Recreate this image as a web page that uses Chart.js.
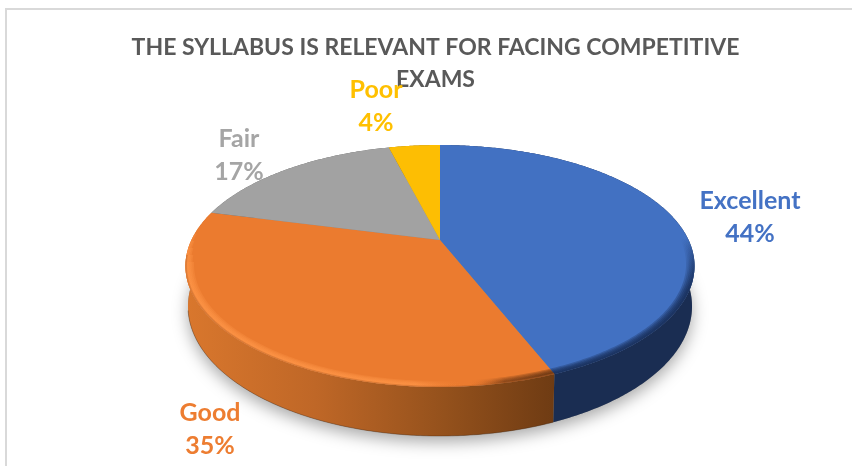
<!DOCTYPE html>
<html>
<head>
<meta charset="utf-8">
<style>html,body{margin:0;padding:0;background:#fff}#wrap{width:852px;height:466px;position:relative}</style>
<script src="https://cdn.jsdelivr.net/npm/chart.js@4"></script>
</head>
<body>
<div id="wrap"><canvas id="c" width="852" height="466"></canvas></div>
<script>
const titleLines = ['THE SYLLABUS IS RELEVANT FOR FACING COMPETITIVE', 'EXAMS'];
const categories = ['Excellent', 'Good', 'Fair', 'Poor'];
const percents = [44, 35, 17, 4];
const sliceColors = ['#4271C2', '#EB7B2F', '#A2A2A2', '#FDBE03'];
const labelColors = ['#4472C4', '#ED7D31', '#A5A5A5', '#FFC000'];

// Perspective view of the pie disc (drawing style, not data)
const view = {cx: 440, cy: 240, R: 248.6, Q: 115.4, p: 0.2148, D: 38.5, shrink: 0.99};
const labelCentres = [[750, 201], [210, 413], [239, 139], [376, 90]];
const labelGap = 32.5;

function project(theta, rho, level) {
  const u = rho * Math.sin(theta), v = -rho * Math.cos(theta), w = 1 - view.p * v;
  const k = level ? view.shrink : 1;
  return [view.cx + view.R * u / w * k, view.cy + view.Q * v / w + (level ? view.D / w : 0)];
}
function arcPts(a0, a1, rho, level) {
  const n = Math.max(2, Math.ceil(Math.abs(a1 - a0) / 0.01)), pts = [];
  for (let i = 0; i <= n; i++) pts.push(project(a0 + (a1 - a0) * i / n, rho, level));
  return pts;
}
function trace(ctx, pts, move) {
  pts.forEach((q, i) => (i === 0 && move) ? ctx.moveTo(q[0], q[1]) : ctx.lineTo(q[0], q[1]));
}
function band(ctx, a0, a1, r0, r1) {
  ctx.beginPath();
  trace(ctx, arcPts(a0, a1, r0, 0), true);
  trace(ctx, arcPts(a1, a0, r1, 0), false);
  ctx.closePath();
}

const pie3d = {
  id: 'pie3d',
  beforeDraw(chart) {
    const ctx = chart.ctx;
    ctx.save();
    ctx.fillStyle = '#fff';
    ctx.fillRect(0, 0, 852, 466);
    ctx.strokeStyle = '#d9d9d9';
    ctx.lineWidth = 2;
    ctx.beginPath();
    ctx.moveTo(6, 466); ctx.lineTo(6, 9); ctx.lineTo(852, 9);
    ctx.stroke();
    ctx.restore();
  },
  beforeDatasetsDraw(chart) {
    const ctx = chart.ctx, arcs = chart.getDatasetMeta(0).data;
    const th = a => a + Math.PI / 2;
    ctx.save();

    // soft ground shadow
    ctx.save();
    ctx.shadowColor = 'rgba(0,0,0,0.34)';
    ctx.shadowBlur = 16;
    ctx.shadowOffsetY = 6;
    ctx.fillStyle = '#888';
    ctx.beginPath();
    trace(ctx, arcPts(0, Math.PI * 2, 1, 1), true);
    ctx.closePath();
    ctx.fill();
    ctx.restore();

    // side wall of each slice
    const orangeSide = ctx.createLinearGradient(186, 0, 556, 0);
    orangeSide.addColorStop(0, '#D9772D');
    orangeSide.addColorStop(0.35, '#BF6727');
    orangeSide.addColorStop(0.7, '#94511C');
    orangeSide.addColorStop(1, '#6E3B13');
    const sides = ['#1A2D52', orangeSide, '#5f5f5f', '#96700a'];
    arcs.forEach((arc, i) => {
      const a0 = th(arc.startAngle), a1 = th(arc.endAngle);
      ctx.beginPath();
      trace(ctx, arcPts(a0, a1, 1, 0), true);
      trace(ctx, arcPts(a1, a0, 1, 1), false);
      ctx.closePath();
      ctx.fillStyle = sides[i];
      ctx.fill();
    });
    // dark foot line of the orange wall
    ctx.strokeStyle = 'rgba(70,35,10,0.35)';
    ctx.lineWidth = 1;
    ctx.beginPath();
    trace(ctx, arcPts(th(arcs[1].startAngle), th(arcs[1].endAngle) - 0.5, 1, 1), true);
    ctx.stroke();

    // top faces
    arcs.forEach((arc, i) => {
      const a0 = th(arc.startAngle), a1 = th(arc.endAngle);
      ctx.beginPath();
      ctx.moveTo(view.cx, view.cy);
      trace(ctx, arcPts(a0, a1, 1, 0), false);
      ctx.closePath();
      ctx.fillStyle = sliceColors[i];
      ctx.fill();
    });

    // bevel of the rim: soft layered bands that taper towards the back
    const blueRim = ctx.createLinearGradient(0, 238, 0, 290);
    blueRim.addColorStop(0, 'rgba(20,40,80,0)');
    blueRim.addColorStop(1, 'rgba(20,40,80,0.3)');
    const orangeRim = ctx.createLinearGradient(186, 0, 556, 0);
    orangeRim.addColorStop(0, 'rgba(255,150,72,0.3)');
    orangeRim.addColorStop(0.62, 'rgba(255,150,72,0.3)');
    orangeRim.addColorStop(0.76, 'rgba(235,123,47,0)');
    orangeRim.addColorStop(0.86, 'rgba(90,45,15,0.2)');
    orangeRim.addColorStop(1, 'rgba(90,45,15,0.34)');

    [[0, blueRim], [1, orangeRim]].forEach(([i, style]) => {
      const a0 = th(arcs[i].startAngle), a1 = th(arcs[i].endAngle);
      [0.968, 0.974, 0.98, 0.986, 0.992].forEach((r, k) => {
        const top = i === 0 ? 0 : 262 - k * 7;
        ctx.save();
        ctx.beginPath();
        ctx.rect(0, top, 852, 466 - top);
        ctx.clip();
        ctx.fillStyle = style;
        band(ctx, a0, a1, 1, r);
        ctx.fill();
        ctx.restore();
      });
    });
    // rim melts into the orange wall at the very edge
    ctx.save();
    const a0 = th(arcs[1].startAngle), a1 = th(arcs[1].endAngle);
    ctx.beginPath();
    ctx.rect(0, 255, 852, 211);
    ctx.clip();
    ctx.fillStyle = 'rgba(190,100,40,0.35)';
    [0.994, 0.997].forEach(r => { band(ctx, a0, a1, 1, r); ctx.fill(); });
    ctx.restore();

    ctx.restore();
    return false;
  },
  afterDraw(chart) {
    const ctx = chart.ctx;
    ctx.save();
    ctx.font = 'bold 25px Lato';
    ctx.textAlign = 'center';
    ctx.textBaseline = 'middle';
    categories.forEach((name, i) => {
      ctx.fillStyle = labelColors[i];
      ctx.fillText(name, labelCentres[i][0], labelCentres[i][1]);
      ctx.fillText(percents[i] + '%', labelCentres[i][0], labelCentres[i][1] + labelGap);
    });
    ctx.restore();
  }
};

new Chart(document.getElementById('c'), {
  type: 'pie',
  data: {
    labels: categories,
    datasets: [{data: percents, backgroundColor: sliceColors, borderWidth: 0}]
  },
  options: {
    responsive: false,
    animation: false,
    layout: {padding: {left: 19}},
    plugins: {
      legend: {display: false},
      tooltip: {enabled: false},
      title: {
        display: true,
        text: titleLines,
        color: '#595959',
        font: {family: 'Lato', weight: 'bold', size: 23, lineHeight: 1.4},
        padding: {top: 31, bottom: 10}
      }
    }
  },
  plugins: [pie3d]
});
</script>
</body>
</html>
